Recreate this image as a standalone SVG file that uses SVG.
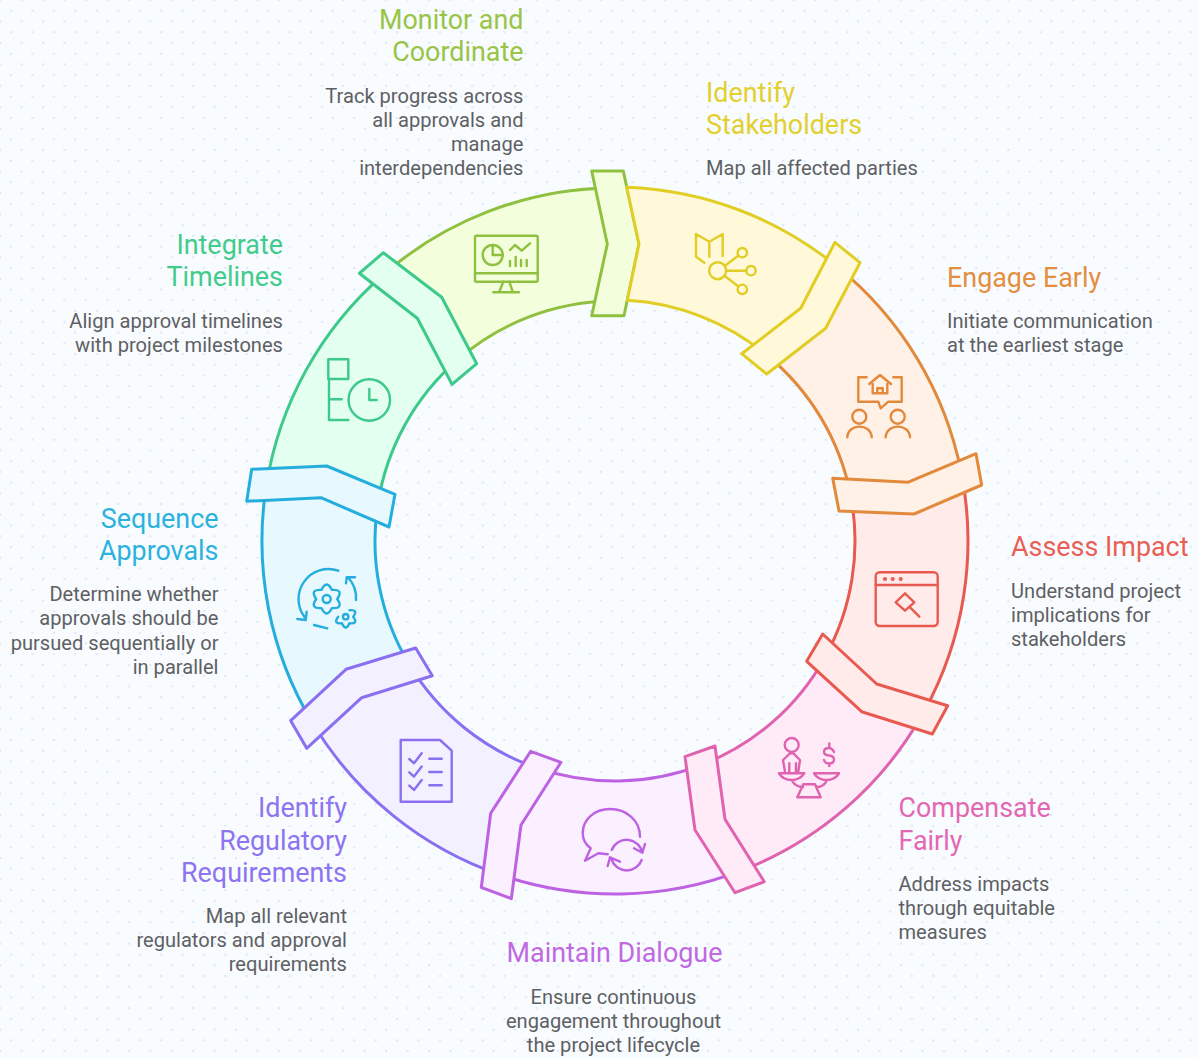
<svg xmlns="http://www.w3.org/2000/svg" width="1199" height="1059" viewBox="0 0 1199 1059">
<defs>
<pattern id="dots" width="21.45" height="21.45" patternUnits="userSpaceOnUse">
<rect x="10" y="9.7" width="2" height="2" fill="#d8e6f8"/>
<rect x="-0.8" y="20.4" width="2" height="2" fill="#d8e6f8"/>
<rect x="20.65" y="20.4" width="2" height="2" fill="#d8e6f8"/>
<rect x="-0.8" y="-1.05" width="2" height="2" fill="#d8e6f8"/>
<rect x="20.65" y="-1.05" width="2" height="2" fill="#d8e6f8"/>
</pattern>
</defs>
<style>
.s{stroke-width:3;stroke-linejoin:round;stroke-linecap:round}
.i{fill:none;stroke-width:2.4;stroke-linejoin:round;stroke-linecap:round}
.t{font-family:Roboto,"Liberation Sans",sans-serif;font-size:26.9px}
.b{font-family:Roboto,"Liberation Sans",sans-serif;font-size:20.1px;fill:#5f6063}
.e{text-anchor:end}
.m{text-anchor:middle}
.lime{stroke:#8fc03f}.yel{stroke:#e2cd25}.ora{stroke:#e2893b}.red{stroke:#e85a50}.pnk{stroke:#e063b0}.mag{stroke:#bd62e2}.vio{stroke:#8a6ff0}.blu{stroke:#25aedd}.grn{stroke:#3cc98a}
.flime{fill:#f3ffdc}.fyel{fill:#fff9da}.fora{fill:#fff1e6}.fred{fill:#ffebe9}.fpnk{fill:#ffeaf7}.fmag{fill:#faf0ff}.fvio{fill:#f3f0ff}.fblu{fill:#e7f8ff}.fgrn{fill:#e3fff0}
</style>
<rect width="1199" height="1059" fill="#f8fcff"/>
<rect width="1199" height="1059" fill="url(#dots)"/>

<g id="connectors"></g>

<g id="monitor">
<path class="s lime flime" d="M383.4,274.6A353,353 0 0 1 608.8,188L610.8,301A240,240 0 0 0 457.5,359.9Z"/>
<polygon class="s lime flime" points="591.7,171 623.3,171 639,244 624,315.7 591.7,315.7 607.3,244"/>
<g class="i lime">
<rect x="475" y="235.7" width="62.7" height="46" rx="1.5"/><path d="M475,273.3H537.7M503.3,281.7L499.3,291.7M509.3,281.7L512.7,291.7M493.3,292.3H519"/>
<circle cx="492.7" cy="255" r="10"/><path d="M492.7,245V255H502.7M510,250L515,245L521.7,250.7L530,243.3M510,261V266M515.7,257V266M521,260V266M526.7,260V266"/>
</g>
<text class="t e" fill="#99c447"><tspan x="523.500" y="29">Monitor and</tspan><tspan x="523.500" y="61">Coordinate</tspan></text>
<text class="b e"><tspan x="523.500" y="103">Track progress across</tspan><tspan x="523.500" y="127">all approvals and</tspan><tspan x="523.500" y="151">manage</tspan><tspan x="523.500" y="175">interdependencies</tspan></text>
</g>

<g id="integrate">
<path class="s grn fgrn" d="M266.3,485.800A353,353 0 0 1 383.400,274.600L457.500,359.900A240,240 0 0 0 377.900,503.500Z"/>
<polygon class="s grn fgrn" points="383.300,252.700 441.700,297.300 476.700,363.700 452,384.300 417.300,318.300 359.300,273.300"/>
<g class="i grn">
<rect x="328.300" y="359.300" width="20" height="19.700"/><path d="M329,379V420H348.300M329.300,399.300H341.700"/>
<circle cx="369.300" cy="400" r="20.700"/><path d="M369.300,389V400H376.700"/>
</g>
<text class="t e" fill="#43cb8d"><tspan x="283" y="254">Integrate</tspan><tspan x="283" y="286">Timelines</tspan></text>
<text class="b e"><tspan x="283" y="328">Align approval timelines</tspan><tspan x="283" y="352">with project milestones</tspan></text>
</g>

<g id="sequence">
<path class="s blu fblu" d="M312.400,722.800A353,353 0 0 1 266.300,485.800L377.900,503.500A240,240 0 0 0 409.300,664.600Z"/>
<polygon class="s blu fblu" points="251.700,469.300 326.700,466 395,494.300 389,527 321,497.700 246.700,501.300"/>
<g class="i blu">
<path d="M331.950,589.900Q344,589 337.200,599Q344,609 331.950,608.100Q326.700,619 321.450,608.100Q309.400,609 316.200,599Q309.400,589 321.450,589.900Q326.700,579 331.950,589.900Z"/>
<circle cx="326.700" cy="599" r="4"/>
<path d="M349.450,610.200Q358.700,609.200 353.200,616.700Q358.700,624.200 349.450,623.200Q345.700,631.700 341.950,623.200Q332.700,624.200 338.200,616.700"/>
<circle cx="345.700" cy="616.700" r="2.700"/>
<path d="M338.300,570.700A30,30 0 0 0 304.500,617M297.300,619L305.700,620L306.700,611.700M356,600A30,30 0 0 0 348.300,577.700M346,583.300L346.700,577.300L355,577.300M314,625L327.300,628.300"/>
</g>
<text class="t e" fill="#2db2e0"><tspan x="218.500" y="528">Sequence</tspan><tspan x="218.500" y="560">Approvals</tspan></text>
<text class="b e"><tspan x="218.500" y="601">Determine whether</tspan><tspan x="218.500" y="625">approvals should be</tspan><tspan x="218.500" y="650">pursued sequentially or</tspan><tspan x="218.500" y="674">in parallel</tspan></text>
</g>

<g id="regulatory">
<path class="s vio fvio" d="M500.100,874.800A353,353 0 0 1 312.400,722.800L409.300,664.600A240,240 0 0 0 536.900,767.900Z"/>
<polygon class="s vio fvio" points="415.700,648 432.300,675.700 361.700,697.700 306.700,748.300 290.700,720.700 346,669.300"/>
<g class="i vio">
<path d="M400.700,740H440L451.700,750.700V801.700H400.700Z"/>
<path d="M409.300,759L414,763.300L421.700,753.300M429.300,758.700H441.700M409.300,772.300L414,776.600L421.700,766.600M429.300,772H441.700M409.300,785.600L414,789.900L421.700,779.900M429.300,785.300H441.700"/>
</g>
<text class="t e" fill="#8e74f0"><tspan x="347" y="817">Identify</tspan><tspan x="347" y="850">Regulatory</tspan><tspan x="347" y="882">Requirements</tspan></text>
<text class="b e"><tspan x="347" y="923">Map all relevant</tspan><tspan x="347" y="947">regulators and approval</tspan><tspan x="347" y="971">requirements</tspan></text>
</g>

<g id="dialogue">
<path class="s mag fmag" d="M741.500,870.600A353,353 0 0 1 500.100,874.800L536.900,767.900A240,240 0 0 0 701,765.100Z"/>
<polygon class="s mag fmag" points="530.700,751.300 561,762.300 521,825 511.300,898.700 481.300,887.300 490.700,813.300"/>
<g class="i mag">
<path d="M640,836.700C640,820 626,809 610,809C594,809 582.700,820 582.700,833C582.700,840 586,845 590.700,848.300L585,860.700L598.300,853.300Q603,854 607.700,854.300"/>
<path d="M611.700,850A16,16 0 0 1 642.300,852.700M634,848.300L642.300,852.700L645,844M641.700,860A16,16 0 0 1 611.700,860M607.700,866L610,857.300L620,861.700"/>
</g>
<text class="t m" fill="#c069e3"><tspan x="614.500" y="962">Maintain Dialogue</tspan></text>
<text class="b m"><tspan x="613.500" y="1004">Ensure continuous</tspan><tspan x="613.500" y="1028">engagement throughout</tspan><tspan x="613.500" y="1052">the project lifecycle</tspan></text>
</g>

<g id="compensate">
<path class="s pnk fpnk" d="M923.700,712.100A353,353 0 0 1 741.500,870.600L701,765.100A240,240 0 0 0 824.900,657.400Z"/>
<polygon class="s pnk fpnk" points="685,756.700 715,746 725,819.300 764.300,881.700 735,892.700 695,830"/>
<g class="i pnk">
<circle cx="791.700" cy="745" r="7"/>
<path d="M785,771.700L783,760L790,753.300H793.300L800,760L798.300,771.700M789.300,763.300V771.700M796,763.300V771.700"/>
<path d="M779,773.300H804.300Q800,780 791.700,780Q783,780 779,773.300ZM814,773.300H839Q835,780 826.500,780Q818,780 814,773.300ZM791.700,780Q795,787 803,787M817,787Q824,787 827,780M803.300,784.300H815L820.700,797.300H797.300Z"/>
<path d="M834,752Q832,748 829,748Q824,748 824,752Q824,755 829,755.500Q834,756 834,759.500Q834,763.500 829,763.500Q825,763.500 824,760M829.300,743.500V748M829.300,763.500V766"/>
</g>
<text class="t" fill="#e368b4"><tspan x="898.500" y="817">Compensate</tspan><tspan x="898.500" y="850">Fairly</tspan></text>
<text class="b"><tspan x="898.500" y="891">Address impacts</tspan><tspan x="898.500" y="915">through equitable</tspan><tspan x="898.500" y="939">measures</tspan></text>
</g>

<g id="assess">
<path class="s red fred" d="M961.500,473.600A353,353 0 0 1 923.700,712.100L824.900,657.400A240,240 0 0 0 850.600,495.200Z"/>
<polygon class="s red fred" points="822.700,634 876.700,684 947.700,705.700 932.300,734 861.700,711.700 806.700,661.300"/>
<g class="i red">
<rect x="875.700" y="572.300" width="62" height="53.700" rx="4"/><path d="M875.700,585H937.700"/>
<path d="M905,593.300L914.300,602.300L905,610.700L895.700,602.300ZM909.300,606.700L919.300,616.700"/>
<circle cx="885" cy="579" r="0.900"/><circle cx="892.700" cy="579" r="0.900"/><circle cx="900.700" cy="579" r="0.900"/>
</g>
<text class="t" fill="#ea5f55"><tspan x="1011" y="556">Assess Impact</tspan></text>
<text class="b"><tspan x="1011" y="598">Understand project</tspan><tspan x="1011" y="622">implications for</tspan><tspan x="1011" y="646">stakeholders</tspan></text>
</g>

<g id="engage">
<path class="s ora fora" d="M837.200,266.700A353,353 0 0 1 961.500,473.600L850.600,495.200A240,240 0 0 0 766,354.500Z"/>
<polygon class="s ora fora" points="832.700,478.300 907.700,482.300 976,453.700 981.700,485 914,514 839,511"/>
<g class="i ora">
<path d="M866.700,377.300H858.300V401.700H878.300L880.700,408.300L888.300,401.700H901.700V377.300H893.300"/>
<path d="M869.300,384L880,375L891,384M872.700,384V393.300H887.300V384M877.300,393.300V388.300H882.700V393.300"/>
<circle cx="859.300" cy="416.700" r="7"/><path d="M847.300,437.300C848,423 871,423 871.700,437.300"/>
<circle cx="897.700" cy="416.700" r="7"/><path d="M885.700,437.300C886.400,423 909.300,423 910,437.300"/>
</g>
<text class="t" fill="#e48e42"><tspan x="947" y="287">Engage Early</tspan></text>
<text class="b"><tspan x="947" y="328">Initiate communication</tspan><tspan x="947" y="352">at the earliest stage</tspan></text>
</g>

<g id="identify">
<path class="s yel fyel" d="M626.700,187.200A353,353 0 0 1 837.200,266.700L766,354.500A240,240 0 0 0 627.300,300.300L639,244Z"/>
<polygon class="s yel fyel" points="835,242.300 860,262.700 825.700,328.300 766.700,374 741.700,353.700 800.700,308.300"/>
<g class="i yel">
<path d="M704.300,262.700L696,256.700V234L709.300,241.700L722.700,234V256M709.300,241.700V256.700"/>
<circle cx="717.700" cy="270.700" r="8.500"/><circle cx="742.300" cy="252.700" r="4.700"/><circle cx="751" cy="270.700" r="4.700"/><circle cx="742.300" cy="289.300" r="4.700"/>
<path d="M725,265.700L738.500,255.500M726.200,270.700H746.300M724.500,275.800L738.500,286.500"/>
</g>
<text class="t" fill="#e3cf2e"><tspan x="706" y="102">Identify</tspan><tspan x="706" y="134">Stakeholders</tspan></text>
<text class="b"><tspan x="706" y="175">Map all affected parties</tspan></text>
</g>
</svg>
